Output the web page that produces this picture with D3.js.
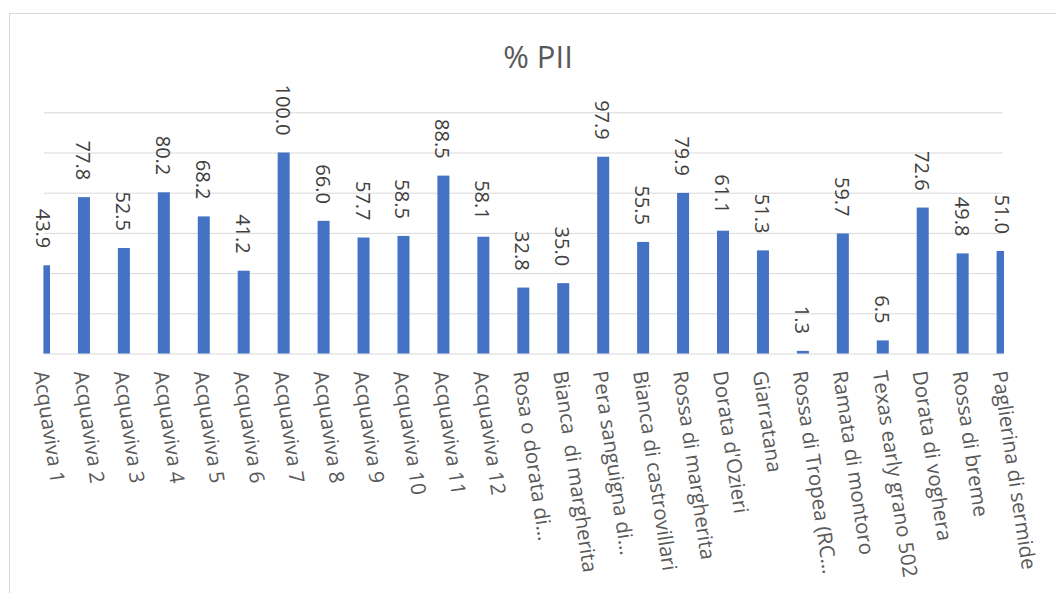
<!DOCTYPE html>
<html>
<head>
<meta charset="utf-8">
<script src="https://cdn.jsdelivr.net/npm/d3@7"></script>
<style>
  body { margin: 0; background: #fff; }
  svg { display: block; font-family: "Open Sans", sans-serif; }
  .grid line { stroke: #d9d9d9; }
  .cat-label { fill: #595959; font-size: 20.5px; white-space: pre; }
  .val-label { fill: #404040; font-size: 20px; }
</style>
</head>
<body>
<svg width="1056" height="593"></svg>
<script>
const categories = [
  'Acquaviva 1', 'Acquaviva 2', 'Acquaviva 3', 'Acquaviva 4', 'Acquaviva 5',
  'Acquaviva 6', 'Acquaviva 7', 'Acquaviva 8', 'Acquaviva 9', 'Acquaviva 10',
  'Acquaviva 11', 'Acquaviva 12', 'Rosa o dorata di…', 'Bianca  di margherita',
  'Pera sanguigna di…', 'Bianca di castrovillari', 'Rossa di margherita',
  "Dorata d'Ozieri", 'Giarratana', 'Rossa di Tropea (RC…', 'Ramata di montoro',
  'Texas early grano 502', 'Dorata di voghera', 'Rossa di breme',
  'Paglierina di sermide'
];
const pii = [
  43.9, 77.8, 52.5, 80.2, 68.2, 41.2, 100.0, 66.0, 57.7, 58.5, 88.5, 58.1,
  32.8, 35.0, 97.9, 55.5, 79.9, 61.1, 51.3, 1.3, 59.7, 6.5, 72.6, 49.8, 51.0
];
const gridTicks = [0, 20, 40, 60, 80, 100, 120];
const title = '% PII';

const data = categories.map((c, i) => ({ cat: c, value: pii[i] }));

const svg = d3.select('svg');
const plot = { left: 44, right: 1002.6, top: 112.3, bottom: 353.5 };
const barWidth = 12;

// outer chart frame (cropped on the right and bottom)
svg.append('rect')
    .attr('x', 9.5).attr('y', 13.5)
    .attr('width', 1200).attr('height', 800)
    .attr('fill', '#fff')
    .attr('stroke', '#d9d9d9');

svg.append('text')
    .attr('x', 538)
    .attr('y', 68)
    .attr('text-anchor', 'middle')
    .attr('fill', '#595959')
    .style('font-size', '31px')
    .text(title);

const xScale = d3.scalePoint()
    .domain(categories)
    .range([plot.left, plot.right]);

const yScale = d3.scaleLinear()
    .domain([0, 120])
    .range([plot.bottom, plot.top]);

const yAxis = d3.axisLeft(yScale)
    .tickValues(gridTicks)
    .tickSize(-(plot.right - plot.left))
    .tickFormat('');

const gridG = svg.append('g')
    .attr('class', 'grid')
    .attr('transform', `translate(${plot.left},0)`)
    .call(yAxis);
gridG.select('.domain').remove();

svg.append('clipPath')
    .attr('id', 'plot-clip')
  .append('rect')
    .attr('x', 43.4)
    .attr('y', 0)
    .attr('width', 1004 - 43.4)
    .attr('height', plot.bottom + 1);

svg.append('g')
    .attr('clip-path', 'url(#plot-clip)')
  .selectAll('rect')
  .data(data)
  .join('rect')
    .attr('x', d => xScale(d.cat) - barWidth / 2)
    .attr('y', d => yScale(d.value))
    .attr('width', barWidth)
    .attr('height', d => yScale(0) - yScale(d.value))
    .attr('fill', '#4472c4');

// value labels, vertical, reading downwards
svg.append('g')
  .selectAll('text')
  .data(data)
  .join('text')
    .attr('class', 'val-label')
    .attr('transform', d => `translate(${xScale(d.cat) - 1},${yScale(d.value) - 17}) rotate(90)`)
    .attr('text-anchor', 'end')
    .attr('dy', '0.35em')
    .text(d => d.value.toFixed(1));

// category labels, tilted
svg.append('g')
  .selectAll('text')
  .data(data)
  .join('text')
    .attr('class', 'cat-label')
    .attr('transform', d => `translate(${xScale(d.cat) - 3},371) rotate(81.5)`)
    .attr('text-anchor', 'start')
    .attr('dy', '0.35em')
    .text(d => d.cat);
</script>
</body>
</html>
